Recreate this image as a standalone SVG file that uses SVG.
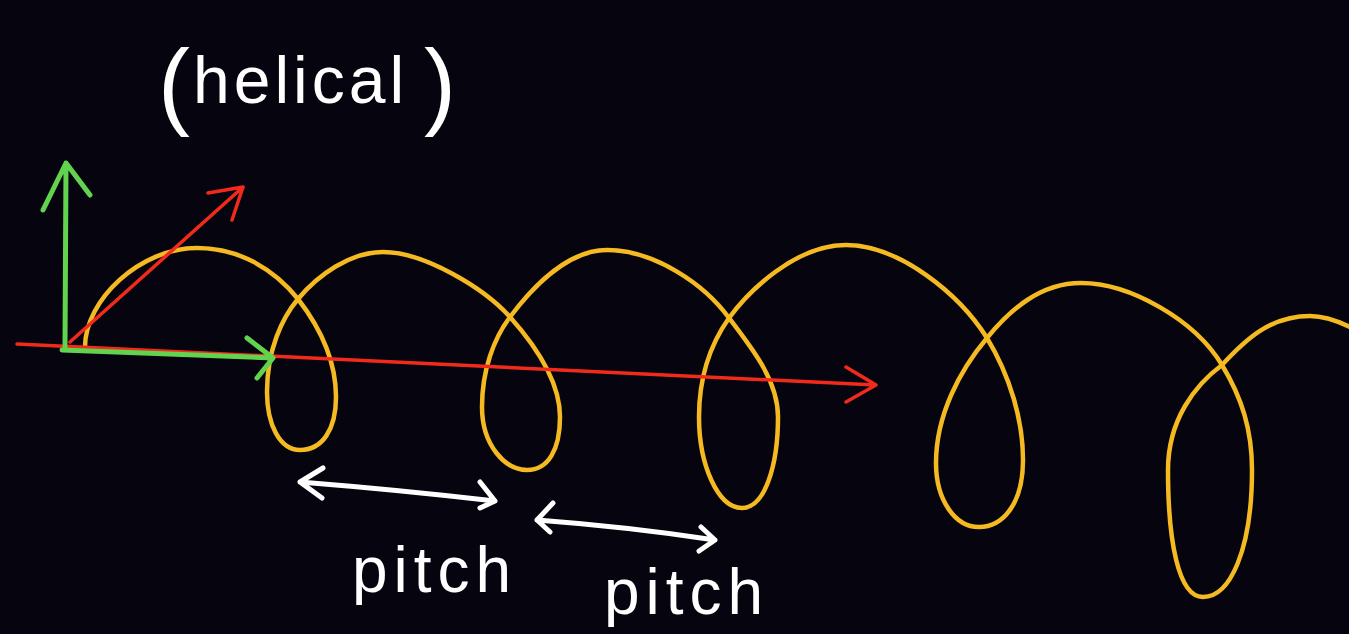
<svg xmlns="http://www.w3.org/2000/svg" width="1349" height="634" viewBox="0 0 1349 634">
<style>
.bg{fill:#05040f}
.helix{fill:none;stroke:#f5ba22;stroke-width:4.5;stroke-linecap:round;stroke-linejoin:round}
.red{fill:none;stroke:#f22a1c;stroke-width:3.5;stroke-linecap:round;stroke-linejoin:round}
.green{fill:none;stroke:#62d34f;stroke-width:5;stroke-linecap:round;stroke-linejoin:round}
.white{fill:none;stroke:#ffffff;stroke-width:5;stroke-linecap:round;stroke-linejoin:round}
.label{fill:#ffffff;font-family:"Liberation Sans","DejaVu Sans",sans-serif}
</style>
<rect class="bg" x="0" y="0" width="1349" height="634"/>
<g id="helix">
<path class="helix" d="M85,347 C85,300 140,248 197,248 C240,248 275,270 298,299 C322,330 336,362 336,397 C336,430 322,450 300,450 C280,450 267,425 267,392 C267,350 282,318 298,299 C318,275 350,252 383,252 C425,252 485,289 510,317 C535,345 560,382 560,417 C560,450 548,470 527,470 C505,470 482,445 482,407 C482,370 494,338 510,317 C528,293 565,250 607,250 C655,250 705,285 729,318 C755,352 778,382 778,417 C778,465 765,508 742,508 C718,508 699,465 699,417 C699,375 712,342 729,318 C748,292 795,245 846,245 C900,245 960,295 987,338 C1010,376 1023,420 1023,460 C1023,505 1002,527 979,527 C955,527 936,500 936,463 C936,415 960,370 987,338 C1010,310 1040,283 1081,283 C1130,283 1195,320 1222,365 C1242,398 1252,430 1252,470 C1252,550 1230,597 1203,597 C1178,597 1168,540 1168,470 C1168,420 1195,385 1222,365 C1245,340 1270,316 1310,316 C1325,316 1340,322 1352,328"/>
</g>
<g id="axes">
<path class="red" d="M17,344 L876,385 M846,367 L876,385 L846,402"/>
<path class="red" d="M70,342 L243,187 M208,193 L243,187 L232,220"/>
<path class="green" d="M65,347 L66,163 M43,210 L66,163 L90,195"/>
<path class="green" d="M62,350 L273,358 M247,338 L273,358 L257,378"/>
</g>
<g id="pitch-arrows">
<path class="white" d="M300,482 Q400,490 495,501 M323,468 L300,482 L322,498 M480,482 L495,501 L480,508"/>
<path class="white" d="M537,520 Q630,527 715,540 M553,503 L537,520 L550,532 M701,527 L715,540 L699,551"/>
</g>
<g id="labels">
<text class="label"><tspan x="158" y="117" font-size="96">(</tspan><tspan x="193" y="103" font-size="66" letter-spacing="4">helical</tspan><tspan x="424" y="117" font-size="96">)</tspan></text>
<text class="label" x="352" y="592" font-size="64" letter-spacing="6">pitch</text>
<text class="label" x="604" y="614" font-size="64" letter-spacing="6">pitch</text>
</g>
</svg>
